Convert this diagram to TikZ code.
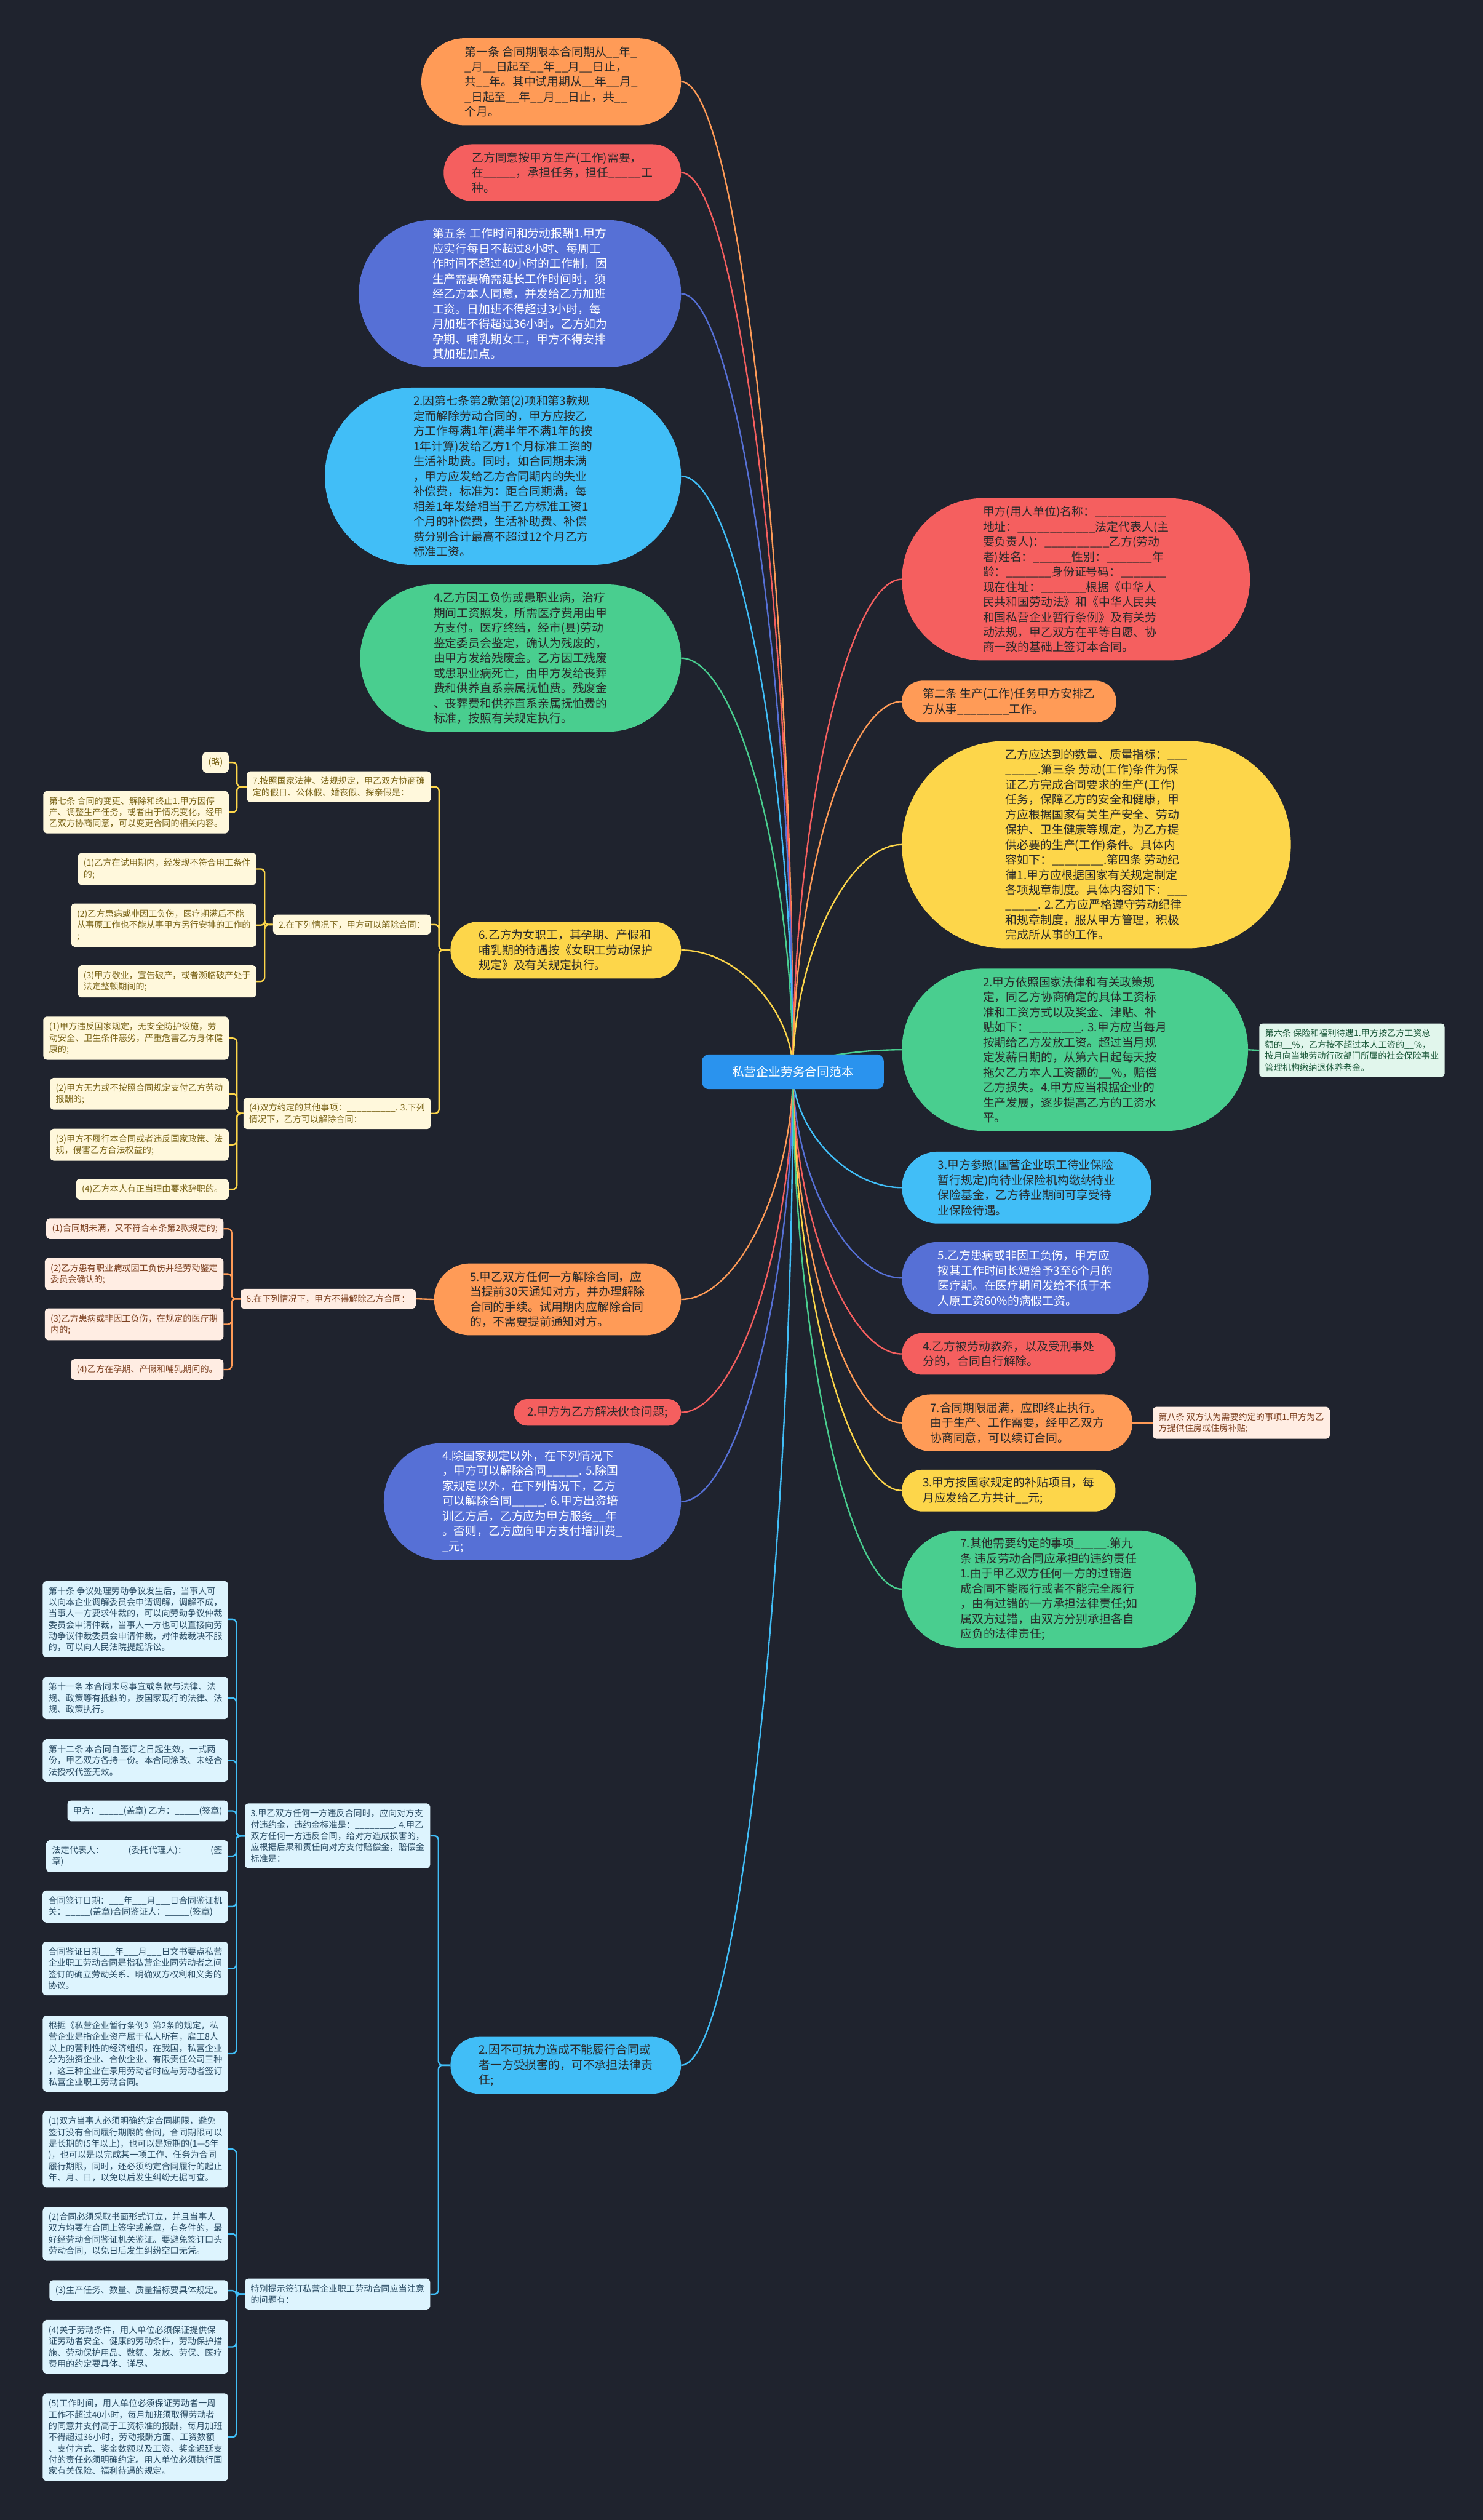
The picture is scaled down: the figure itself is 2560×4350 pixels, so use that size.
\documentclass[tikz,border=0pt]{standalone}
\usepackage{fontspec}
\setmainfont{Noto Sans CJK SC}
\usetikzlibrary{calc}

\definecolor{fond}{HTML}{1F232E}
\definecolor{bleuracine}{HTML}{2A93EE}
\definecolor{orangeb}{HTML}{FF9B57}
\definecolor{rougeb}{HTML}{F55F5F}
\definecolor{indigob}{HTML}{5670D6}
\definecolor{cielb}{HTML}{41BEF7}
\definecolor{vertb}{HTML}{49CE8F}
\definecolor{jauneb}{HTML}{FDD64A}
\definecolor{encre}{HTML}{2A2A2A}
\definecolor{cremejaune}{HTML}{FFF8DC}
\definecolor{encrejaune}{HTML}{7A6418}
\definecolor{cremeorange}{HTML}{FFEDE3}
\definecolor{encreorange}{HTML}{7E4222}
\definecolor{cremeciel}{HTML}{DDF4FE}
\definecolor{encreciel}{HTML}{2C4E66}
\definecolor{cremevert}{HTML}{E1F6EC}
\definecolor{encrevert}{HTML}{1E5B3C}

\pgfdeclarelayer{arriere}
\pgfdeclarelayer{liens}
\pgfsetlayers{arriere,liens,main}

% lien courbe depuis la racine vers une bulle
\newcommand\lienracine[2]{%
  \draw[lien,#1] (racine.center) let \p1=(racine.center), \p2=(#2) in
    .. controls (\x1,{0.5*\y1+0.5*\y2}) and ({0.5*\x1+0.5*\x2},\y2) .. (\p2);}
% lien en equerre vers une note fille (bus a 14 px de la note)
\newcommand\lienfils[3]{%
  \draw[lien,#1,rounded corners=7pt] (#2.west) -| ([xshift=14pt]#3.east) -- (#3.east);}

\begin{document}
\catcode`\_=12
\begin{tikzpicture}[x=1pt,y=-1pt,
    racine/.style={fill=bleuracine, text=white, rounded corners=12pt,
      minimum width=314pt, minimum height=60pt, font=\fontsize{21}{26}\selectfont},
    % bulle en pilule : #1 = nombre de lignes
    bulle/.code={\pgfmathsetmacro\demih{13*#1+10}%
      \pgfmathsetmacro\haut{26*#1+20}%
      \pgfmathsetmacro\rayon{13*#1+9.5}%
      \pgfkeysalso{/tikz/minimum height=\haut pt, /tikz/rounded corners=\rayon pt,
        /tikz/inner xsep=\demih pt, /tikz/inner ysep=0pt, /tikz/align=left,
        /tikz/text=encre, /tikz/font=\fontsize{20}{26}\selectfont}},
    note/.style={rounded corners=6pt, inner xsep=10pt, inner ysep=10pt,
      align=left, font=\fontsize{15}{19.5}\selectfont},
    notejaune/.style={note, fill=cremejaune, text=encrejaune},
    noteorange/.style={note, fill=cremeorange, text=encreorange},
    noteciel/.style={note, fill=cremeciel, text=encreciel},
    notevert/.style={note, fill=cremevert, text=encrevert},
    lien/.style={line width=2.5pt}]

  % fond sombre
  \begin{pgfonlayer}{arriere}
    \fill[fond] (0,0) rectangle (2560,4350);
  \end{pgfonlayer}
  \useasboundingbox (0,0) rectangle (2560,4350);

  % la racine
  \node[racine] (racine) at (1369,1850) {私营企业劳务合同范本};

  % bulles a gauche
  \node[bulle=5, fill=orangeb, anchor=east] (duree) at (1176,141)
    {第一条 合同期限本合同期从__年_\\_月__日起至__年__月__日止，\\共__年。其中试用期从__年__月_\\_日起至__年__月__日止，共__\\个月。};
  \node[bulle=3, fill=rougeb, anchor=east] (poste) at (1176,298)
    {乙方同意按甲方生产(工作)需要，\\在_____，承担任务，担任_____工\\种。};
  \node[bulle=9, fill=indigob, text=white, anchor=east] (horaires) at (1176,507)
    {第五条 工作时间和劳动报酬1.甲方\\应实行每日不超过8小时、每周工\\作时间不超过40小时的工作制，因\\生产需要确需延长工作时间时，须\\经乙方本人同意，并发给乙方加班\\工资。日加班不得超过3小时，每\\月加班不得超过36小时。乙方如为\\孕期、哺乳期女工，甲方不得安排\\其加班加点。};
  \node[bulle=11, fill=cielb, anchor=east] (indemnite) at (1176,822)
    {2.因第七条第2款第(2)项和第3款规\\定而解除劳动合同的，甲方应按乙\\方工作每满1年(满半年不满1年的按\\1年计算)发给乙方1个月标准工资的\\生活补助费。同时，如合同期未满\\，甲方应发给乙方合同期内的失业\\补偿费，标准为：距合同期满，每\\相差1年发给相当于乙方标准工资1\\个月的补偿费，生活补助费、补偿\\费分别合计最高不超过12个月乙方\\标准工资。};
  \node[bulle=9, fill=vertb, anchor=east] (accident) at (1176,1136)
    {4.乙方因工负伤或患职业病，治疗\\期间工资照发，所需医疗费用由甲\\方支付。医疗终结，经市(县)劳动\\鉴定委员会鉴定，确认为残废的，\\由甲方发给残废金。乙方因工残废\\或患职业病死亡，由甲方发给丧葬\\费和供养直系亲属抚恤费。残废金\\、丧葬费和供养直系亲属抚恤费的\\标准，按照有关规定执行。};
  \node[bulle=3, fill=jauneb, anchor=east] (femmes) at (1176,1640)
    {6.乙方为女职工，其孕期、产假和\\哺乳期的待遇按《女职工劳动保护\\规定》及有关规定执行。};
  \node[bulle=4, fill=orangeb, anchor=east] (resiliation) at (1176,2243)
    {5.甲乙双方任何一方解除合同，应\\当提前30天通知对方，并办理解除\\合同的手续。试用期内应解除合同\\的，不需要提前通知对方。};
  \node[bulle=1, fill=rougeb, anchor=east] (repas) at (1176,2438)
    {2.甲方为乙方解决伙食问题;};
  \node[bulle=7, fill=indigob, text=white, anchor=east] (formation) at (1176,2592)
    {4.除国家规定以外，在下列情况下\\，甲方可以解除合同_____. 5.除国\\家规定以外，在下列情况下，乙方\\可以解除合同_____. 6.甲方出资培\\训乙方后，乙方应为甲方服务__年\\。否则，乙方应向甲方支付培训费_\\_元;};
  \node[bulle=3, fill=cielb, anchor=east] (forcemajeure) at (1176,3565)
    {2.因不可抗力造成不能履行合同或\\者一方受损害的，可不承担法律责\\任;};

  % bulles a droite
  \node[bulle=10, fill=rougeb, anchor=west] (parties) at (1557,1000)
    {甲方(用人单位)名称：___________\\地址：____________法定代表人(主\\要负责人)：__________乙方(劳动\\者)姓名：______性别：_______年\\龄：_______身份证号码：_______\\现在住址：_______根据《中华人\\民共和国劳动法》和《中华人民共\\和国私营企业暂行条例》及有关劳\\动法规，甲乙双方在平等自愿、协\\商一致的基础上签订本合同。};
  \node[bulle=2, fill=orangeb, anchor=west] (mission) at (1557,1211)
    {第二条 生产(工作)任务甲方安排乙\\方从事________工作。};
  \node[bulle=13, fill=jauneb, anchor=west] (conditions) at (1557,1458)
    {乙方应达到的数量、质量指标：___\\_____.第三条 劳动(工作)条件为保\\证乙方完成合同要求的生产(工作)\\任务，保障乙方的安全和健康，甲\\方应根据国家有关生产安全、劳动\\保护、卫生健康等规定，为乙方提\\供必要的生产(工作)条件。具体内\\容如下：________.第四条 劳动纪\\律1.甲方应根据国家有关规定制定\\各项规章制度。具体内容如下：___\\_____. 2.乙方应严格遵守劳动纪律\\和规章制度，服从甲方管理，积极\\完成所从事的工作。};
  \node[bulle=10, fill=vertb, anchor=west] (salaire) at (1557,1812)
    {2.甲方依照国家法律和有关政策规\\定，同乙方协商确定的具体工资标\\准和工资方式以及奖金、津贴、补\\贴如下：________. 3.甲方应当每月\\按期给乙方发放工资。超过当月规\\定发薪日期的，从第六日起每天按\\拖欠乙方本人工资额的__\%，赔偿\\乙方损失。4.甲方应当根据企业的\\生产发展，逐步提高乙方的工资水\\平。};
  \node[bulle=4, fill=cielb, anchor=west] (chomage) at (1557,2050)
    {3.甲方参照(国营企业职工待业保险\\暂行规定)向待业保险机构缴纳待业\\保险基金，乙方待业期间可享受待\\业保险待遇。};
  \node[bulle=4, fill=indigob, text=white, anchor=west] (maladie) at (1557,2206)
    {5.乙方患病或非因工负伤，甲方应\\按其工作时间长短给予3至6个月的\\医疗期。在医疗期间发给不低于本\\人原工资60\%的病假工资。};
  \node[bulle=2, fill=rougeb, anchor=west] (reeducation) at (1557,2337)
    {4.乙方被劳动教养，以及受刑事处\\分的，合同自行解除。};
  \node[bulle=3, fill=orangeb, anchor=west] (expiration) at (1557,2456)
    {7.合同期限届满，应即终止执行。\\由于生产、工作需要，经甲乙双方\\协商同意，可以续订合同。};
  \node[bulle=2, fill=jauneb, anchor=west] (subvention) at (1557,2573)
    {3.甲方按国家规定的补贴项目，每\\月应发给乙方共计__元;};
  \node[bulle=7, fill=vertb, anchor=west] (autres) at (1557,2743)
    {7.其他需要约定的事项_____.第九\\条 违反劳动合同应承担的违约责任\\1.由于甲乙双方任何一方的过错造\\成合同不能履行或者不能完全履行\\，由有过错的一方承担法律责任;如\\属双方过错，由双方分别承担各自\\应负的法律责任;};

  % notes a droite
  \node[notevert, anchor=west] (assurance) at (2174,1813)
    {第六条 保险和福利待遇1.甲方按乙方工资总\\额的__\%，乙方按不超过本人工资的__\%，\\按月向当地劳动行政部门所属的社会保险事业\\管理机构缴纳退休养老金。};
  \node[noteorange, anchor=west] (logement) at (1990,2456)
    {第八条 双方认为需要约定的事项1.甲方为乙\\方提供住房或住房补贴;};

  % notes de la branche 6
  \node[notejaune, anchor=east] (conges) at (744,1358)
    {7.按照国家法律、法规规定，甲乙双方协商确\\定的假日、公休假、婚丧假、探亲假是：};
  \node[notejaune, anchor=east] (omis) at (395,1316) {(略)};
  \node[notejaune, anchor=east] (article7) at (395,1402)
    {第七条 合同的变更、解除和终止1.甲方因停\\产、调整生产任务，或者由于情况变化，经甲\\乙双方协商同意，可以变更合同的相关内容。};
  \node[notejaune, anchor=east] (renvoi) at (744,1596)
    {2.在下列情况下，甲方可以解除合同：};
  \node[notejaune, anchor=east] (renvoiA) at (443,1500)
    {(1)乙方在试用期内，经发现不符合用工条件\\的;};
  \node[notejaune, anchor=east] (renvoiB) at (443,1597)
    {(2)乙方患病或非因工负伤，医疗期满后不能\\从事原工作也不能从事甲方另行安排的工作的\\;};
  \node[notejaune, anchor=east] (renvoiC) at (443,1694)
    {(3)甲方歇业，宣告破产，或者濒临破产处于\\法定整顿期间的;};
  \node[notejaune, anchor=east] (demission) at (744,1922)
    {(4)双方约定的其他事项：__________. 3.下列\\情况下，乙方可以解除合同：};
  \node[notejaune, anchor=east] (demA) at (395,1792)
    {(1)甲方违反国家规定，无安全防护设施，劳\\动安全、卫生条件恶劣，严重危害乙方身体健\\康的;};
  \node[notejaune, anchor=east] (demB) at (395,1888)
    {(2)甲方无力或不按照合同规定支付乙方劳动\\报酬的;};
  \node[notejaune, anchor=east] (demC) at (395,1976)
    {(3)甲方不履行本合同或者违反国家政策、法\\规，侵害乙方合法权益的;};
  \node[notejaune, anchor=east] (demD) at (395,2053)
    {(4)乙方本人有正当理由要求辞职的。};

  % notes de la branche 5
  \node[noteorange, anchor=east] (interdit) at (718,2242)
    {6.在下列情况下，甲方不得解除乙方合同：};
  \node[noteorange, anchor=east] (intA) at (386,2121)
    {(1)合同期未满，又不符合本条第2款规定的;};
  \node[noteorange, anchor=east] (intB) at (386,2199)
    {(2)乙方患有职业病或因工负伤并经劳动鉴定\\委员会确认的;};
  \node[noteorange, anchor=east] (intC) at (386,2286)
    {(3)乙方患病或非因工负伤，在规定的医疗期\\内的;};
  \node[noteorange, anchor=east] (intD) at (386,2364)
    {(4)乙方在孕期、产假和哺乳期间的。};

  % notes de la branche 2 (force majeure)
  \node[noteciel, anchor=east] (penalite) at (743,3169)
    {3.甲乙双方任何一方违反合同时，应向对方支\\付违约金，违约金标准是：________. 4.甲乙\\双方任何一方违反合同，给对方造成损害的，\\应根据后果和责任向对方支付赔偿金，赔偿金\\标准是：};
  \node[noteciel, anchor=east] (art10) at (394,2795)
    {第十条 争议处理劳动争议发生后，当事人可\\以向本企业调解委员会申请调解，调解不成，\\当事人一方要求仲裁的，可以向劳动争议仲裁\\委员会申请仲裁，当事人一方也可以直接向劳\\动争议仲裁委员会申请仲裁，对仲裁裁决不服\\的，可以向人民法院提起诉讼。};
  \node[noteciel, anchor=east] (art11) at (394,2931)
    {第十一条 本合同未尽事宜或条款与法律、法\\规、政策等有抵触的，按国家现行的法律、法\\规、政策执行。};
  \node[noteciel, anchor=east] (art12) at (394,3039)
    {第十二条 本合同自签订之日起生效，一式两\\份，甲乙双方各持一份。本合同涂改、未经合\\法授权代签无效。};
  \node[noteciel, anchor=east] (signA) at (394,3126)
    {甲方：_____(盖章) 乙方：_____(签章)};
  \node[noteciel, anchor=east] (signB) at (394,3204)
    {法定代表人：_____(委托代理人)：_____(签\\章)};
  \node[noteciel, anchor=east] (dateSign) at (394,3291)
    {合同签订日期：___年___月___日合同鉴证机\\关：_____(盖章)合同鉴证人：_____(签章)};
  \node[noteciel, anchor=east] (dateVisa) at (394,3398)
    {合同鉴证日期___年___月___日文书要点私营\\企业职工劳动合同是指私营企业同劳动者之间\\签订的确立劳动关系、明确双方权利和义务的\\协议。};
  \node[noteciel, anchor=east] (definition) at (394,3545)
    {根据《私营企业暂行条例》第2条的规定，私\\营企业是指企业资产属于私人所有，雇工8人\\以上的营利性的经济组织。在我国，私营企业\\分为独资企业、合伙企业、有限责任公司三种\\，这三种企业在录用劳动者时应与劳动者签订\\私营企业职工劳动合同。};
  \node[noteciel, anchor=east] (conseils) at (743,3960)
    {特别提示签订私营企业职工劳动合同应当注意\\的问题有：};
  \node[noteciel, anchor=east] (consA) at (394,3710)
    {(1)双方当事人必须明确约定合同期限，避免\\签订没有合同履行期限的合同，合同期限可以\\是长期的(5年以上)，也可以是短期的(1—5年\\)，也可以是以完成某一项工作、任务为合同\\履行期限，同时，还必须约定合同履行的起止\\年、月、日，以免以后发生纠纷无据可查。};
  \node[noteciel, anchor=east] (consB) at (394,3856)
    {(2)合同必须采取书面形式订立，并且当事人\\双方均要在合同上签字或盖章，有条件的，最\\好经劳动合同鉴证机关鉴证。要避免签订口头\\劳动合同，以免日后发生纠纷空口无凭。};
  \node[noteciel, anchor=east] (consC) at (394,3954)
    {(3)生产任务、数量、质量指标要具体规定。};
  \node[noteciel, anchor=east] (consD) at (394,4051)
    {(4)关于劳动条件，用人单位必须保证提供保\\证劳动者安全、健康的劳动条件，劳动保护措\\施、劳动保护用品、数额、发放、劳保、医疗\\费用的约定要具体、详尽。};
  \node[noteciel, anchor=east] (consE) at (394,4207)
    {(5)工作时间，用人单位必须保证劳动者一周\\工作不超过40小时，每月加班须取得劳动者\\的同意并支付高于工资标准的报酬，每月加班\\不得超过36小时，劳动报酬方面、工资数额\\、支付方式、奖金数额以及工资、奖金迟延支\\付的责任必须明确约定。用人单位必须执行国\\家有关保险、福利待遇的规定。};

  % tous les liens, sous les bulles
  \begin{pgfonlayer}{liens}
    % depuis la racine
    \lienracine{orangeb}{duree.east}
    \lienracine{rougeb}{poste.east}
    \lienracine{indigob}{horaires.east}
    \lienracine{cielb}{indemnite.east}
    \lienracine{vertb}{accident.east}
    \lienracine{jauneb}{femmes.east}
    \lienracine{orangeb}{resiliation.east}
    \lienracine{rougeb}{repas.east}
    \lienracine{indigob}{formation.east}
    \lienracine{cielb}{forcemajeure.east}
    \lienracine{rougeb}{parties.west}
    \lienracine{orangeb}{mission.west}
    \lienracine{jauneb}{conditions.west}
    \lienracine{vertb}{salaire.west}
    \lienracine{cielb}{chomage.west}
    \lienracine{indigob}{maladie.west}
    \lienracine{rougeb}{reeducation.west}
    \lienracine{orangeb}{expiration.west}
    \lienracine{jauneb}{subvention.west}
    \lienracine{vertb}{autres.west}
    % notes a droite
    \draw[lien,vertb] (salaire.east) -- (assurance.west);
    \draw[lien,orangeb] (expiration.east) -- (logement.west);
    % branche 6
    \foreach \n in {conges,renvoi,demission} {\lienfils{jauneb}{femmes}{\n}}
    \foreach \n in {omis,article7} {\lienfils{jauneb}{conges}{\n}}
    \foreach \n in {renvoiA,renvoiB,renvoiC} {\lienfils{jauneb}{renvoi}{\n}}
    \foreach \n in {demA,demB,demC,demD} {\lienfils{jauneb}{demission}{\n}}
    % branche 5
    \draw[lien,orangeb] (resiliation.west) -- (interdit.east);
    \foreach \n in {intA,intB,intC,intD} {\lienfils{orangeb}{interdit}{\n}}
    % branche force majeure
    \foreach \n in {penalite,conseils} {\lienfils{cielb}{forcemajeure}{\n}}
    \foreach \n in {art10,art11,art12,signA,signB,dateSign,dateVisa,definition} {\lienfils{cielb}{penalite}{\n}}
    \foreach \n in {consA,consB,consC,consD,consE} {\lienfils{cielb}{conseils}{\n}}
  \end{pgfonlayer}
\end{tikzpicture}
\end{document}
